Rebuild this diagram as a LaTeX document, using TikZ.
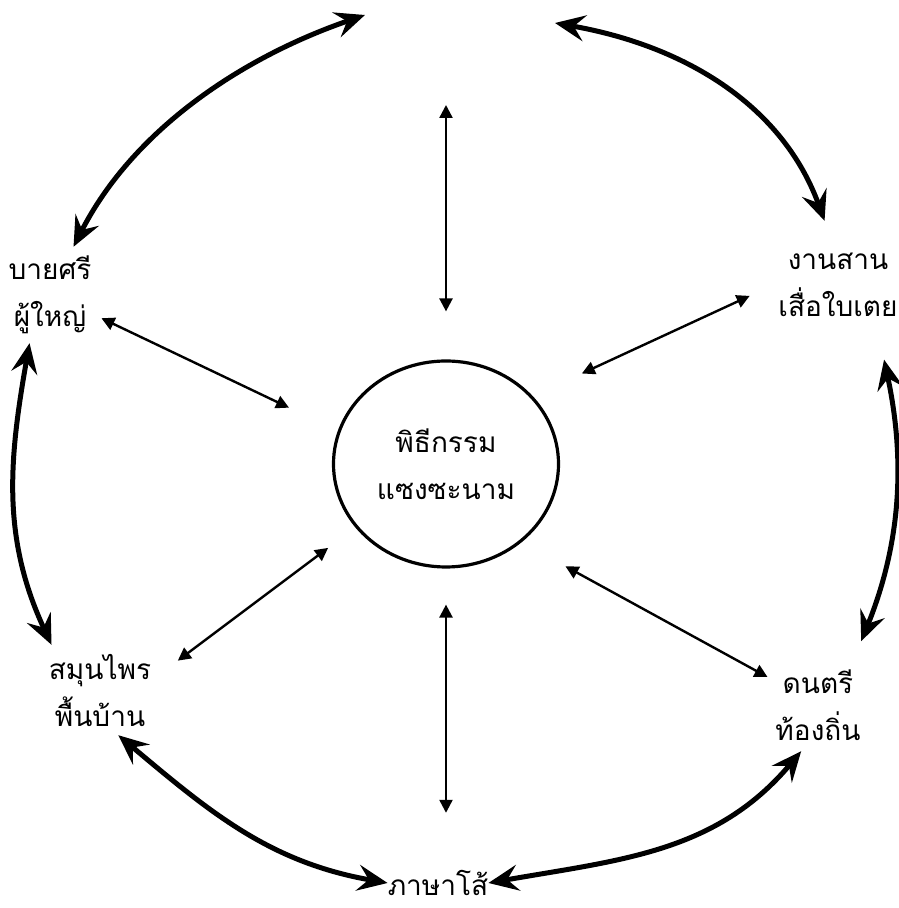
\documentclass[tikz,border=0pt]{standalone}
\usepackage{fontspec}
\newfontfamily\thaifont[Script=Thai]{Loma}
\usetikzlibrary{arrows.meta,shapes.geometric}
\tikzset{
  thintip/.tip={Triangle[length=13pt,width=13pt]},
  bigtip/.tip={Stealth[length=30pt,width=26pt,inset=11pt]},
  topic/.style={font=\thaifont\fontsize{28}{47}\selectfont,align=center,inner sep=0pt},
  link/.style={thintip-thintip,line width=2.4pt},
  ring/.style={bigtip-bigtip,line width=5pt}
}
\begin{document}
\begin{tikzpicture}[x=1pt,y=1pt]
  \useasboundingbox (0,0) rectangle (899,908);
  % centre and the five topics
  \node[topic,draw,ellipse,line width=3.2pt,minimum width=225pt,minimum height=206pt] (hub) at (446,444) {พิธีกรรม\\แซงซะนาม};
  \node[topic,minimum width=80pt,minimum height=96pt] (ul) at (50,613) {บายศรี\\ผู้ใหญ่};
  \node[topic,minimum width=120pt,minimum height=96pt] (ur) at (838,623) {งานสาน\\เสื่อใบเตย};
  \node[topic,minimum width=104pt,minimum height=90pt] (ll) at (100,218) {สมุนไพร\\พื้นบ้าน};
  \node[topic,minimum width=90pt,minimum height=92pt] (lr) at (818,203) {ดนตรี\\ท้องถิ่น};
  \node[topic,minimum width=100pt,minimum height=44pt] (bt) at (438,25) {ภาษาโส้};
  \coordinate (topl) at (365,893); \coordinate (topr) at (555,885); \coordinate (topc) at (446,803);
  % thin arrows round the centre
  \draw[link,shorten <=48pt] (hub.north) -- (topc);
  \draw[link,shorten <=36pt,shorten >=48pt] (hub.south) -- (hub.south |- bt.north);
  \draw[link,shorten <=54pt,shorten >=11pt] (hub.163) -- (ul.-24.6);
  \draw[link,shorten <=54pt,shorten >=31pt] (hub.38.5) -- (ur.178);
  \draw[link,shorten <=34pt,shorten >=32pt] (hub.215.8) -- (ll.11.7);
  \draw[link,shorten <=50pt,shorten >=6pt] (hub.-46.85) -- (lr.151.2);
  % outer ring
  \draw[ring] (topl) to[out=199,in=63,looseness=0.9] (ul.64);
  \draw[ring,shorten >=17pt] (topr) to[out=-10,in=110] (ur.99.5);
  \draw[ring,shorten <=27pt,shorten >=19pt] (ur.-50) to[out=-78,in=68] (lr.52);
  \draw[ring] (ul.247) to[out=260,in=115] (ll.137);
  \draw[ring] (ll.-68) to[out=-40,in=170] (bt.west);
  \draw[ring] (bt.east) to[out=10,in=230] (lr.-110);
\end{tikzpicture}
\end{document}
